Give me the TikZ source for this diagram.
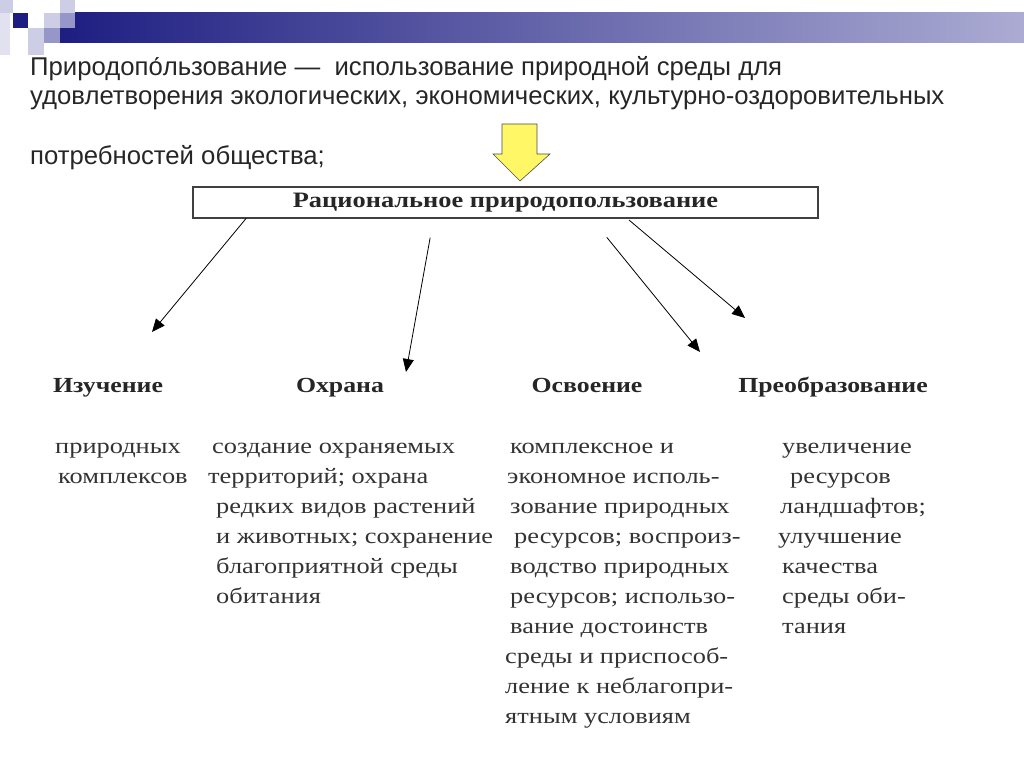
\documentclass[tikz,border=0pt]{standalone}
\usepackage{fontspec}
\setmainfont{Liberation Sans}
\newfontfamily\bodyf[FakeStretch=1.2]{Liberation Serif}
\usetikzlibrary{arrows.meta}
\definecolor{navy}{RGB}{30,30,130}
\definecolor{lnavy}{RGB}{150,150,200}
\definecolor{llnavy}{RGB}{205,205,230}
\tikzset{
  lead/.style={anchor=base west,inner sep=0pt,font=\fontsize{25.7}{25.7}\selectfont,text=black!85},
  body/.style={anchor=base west,inner sep=0pt,font=\bodyf\fontsize{22}{22}\selectfont,text=black!80},
  head/.style={anchor=base,inner sep=0pt,font=\bodyf\bfseries\fontsize{21.5}{21.5}\selectfont,text=black!85},
  arr/.style={-{Triangle[length=13pt,width=11pt]},line width=0.8pt,shorten <=2pt}
}
\begin{document}
\begin{tikzpicture}[x=1pt,y=-1pt]
\useasboundingbox (0,0) rectangle (1024,767);
% header decoration
\shade[left color=navy,right color=lnavy!80] (60,13) rectangle (1024,43);
\fill[llnavy] (0,0) rectangle (13,13);
\fill[llnavy] (60,0) rectangle (75,13);
\fill[navy] (13,13) rectangle (28,28);
\fill[llnavy] (44,13) rectangle (60,28);
\fill[lnavy] (60,13) rectangle (75,28);
\fill[llnavy!60] (0,13) rectangle (10,55);
\fill[llnavy] (28,28) rectangle (44,43);
\fill[lnavy] (44,28) rectangle (60,43);
\fill[llnavy] (28,43) rectangle (44,55);
% intro text
\node[lead] (t1) at (30,76) {Природопо́льзование —\ \ использование природной среды для};
\node[lead] (t2) at (30,105) {удовлетворения экологических, экономических, культурно-оздоровительных};
\node[lead] (t3) at (30,165) {потребностей общества;};
% yellow arrow
\fill[yellow!60!white,draw=black!70,line width=0.6pt] (502,124) -- (537,124) -- (537,154) -- (550,154) -- (520,181) -- (493,154) -- (502,154) -- cycle;
% box
\node[draw=black!75,line width=1.5pt,minimum width=625pt,minimum height=31pt,inner sep=0pt,font=\bodyf\bfseries\fontsize{22}{22}\selectfont,text=black!85] (box) at (505.5,202.5) {\raisebox{-2pt}{Рациональное природопользование}};
% headings
\node[head] (h1) at (108,392) {Изучение};
\node[head] (h2) at (340,392) {Охрана};
\node[head] (h3) at (587,392) {Освоение};
\node[head] (h4) at (833,392) {Преобразование};
% arrow end coordinates
\coordinate (e1) at (152,332);
\coordinate (e2) at (406,372);
\coordinate (e3) at (700,352);
\coordinate (e4) at (745,318);
\draw[arr] ([xshift=-258pt]box.south) ++(0,-2) -- (e1);
\draw[arr] ([xshift=-75pt,yshift=-17pt]box.south) -- (e2);
\draw[arr] ([xshift=100pt,yshift=-17pt]box.south) -- (e3);
\draw[arr] ([xshift=122pt]box.south) -- (e4);
% column 1
\node[body] (a1) at (55,453) {природных};
\node[body] (a2) at (58,483) {комплексов};
% column 2
\node[body] (b1) at (212,453) {создание охраняемых};
\node[body] (b2) at (208,483) {территорий; охрана};
\node[body] (b3) at (216,513) {редких видов растений};
\node[body] (b4) at (216,543) {и животных; сохранение};
\node[body] (b5) at (216,573) {благоприятной среды};
\node[body] (b6) at (216,603) {обитания};
% column 3
\node[body] (c1) at (510,453) {комплексное и};
\node[body] (c2) at (507,483) {экономное исполь-};
\node[body] (c3) at (510,513) {зование природных};
\node[body] (c4) at (514,543) {ресурсов; воспроиз-};
\node[body] (c5) at (510,573) {водство природных};
\node[body] (c6) at (510,603) {ресурсов; использо-};
\node[body] (c7) at (510,633) {вание достоинств};
\node[body] (c8) at (505,663) {среды и приспособ-};
\node[body] (c9) at (505,693) {ление к неблагопри-};
\node[body] (c10) at (505,723) {ятным условиям};
% column 4
\node[body] (d1) at (782,453) {увеличение};
\node[body] (d2) at (790,483) {ресурсов};
\node[body] (d3) at (780,513) {ландшафтов;};
\node[body] (d4) at (778,543) {улучшение};
\node[body] (d5) at (782,573) {качества};
\node[body] (d6) at (782,603) {среды оби-};
\node[body] (d7) at (782,633) {тания};
\end{tikzpicture}
\end{document}
